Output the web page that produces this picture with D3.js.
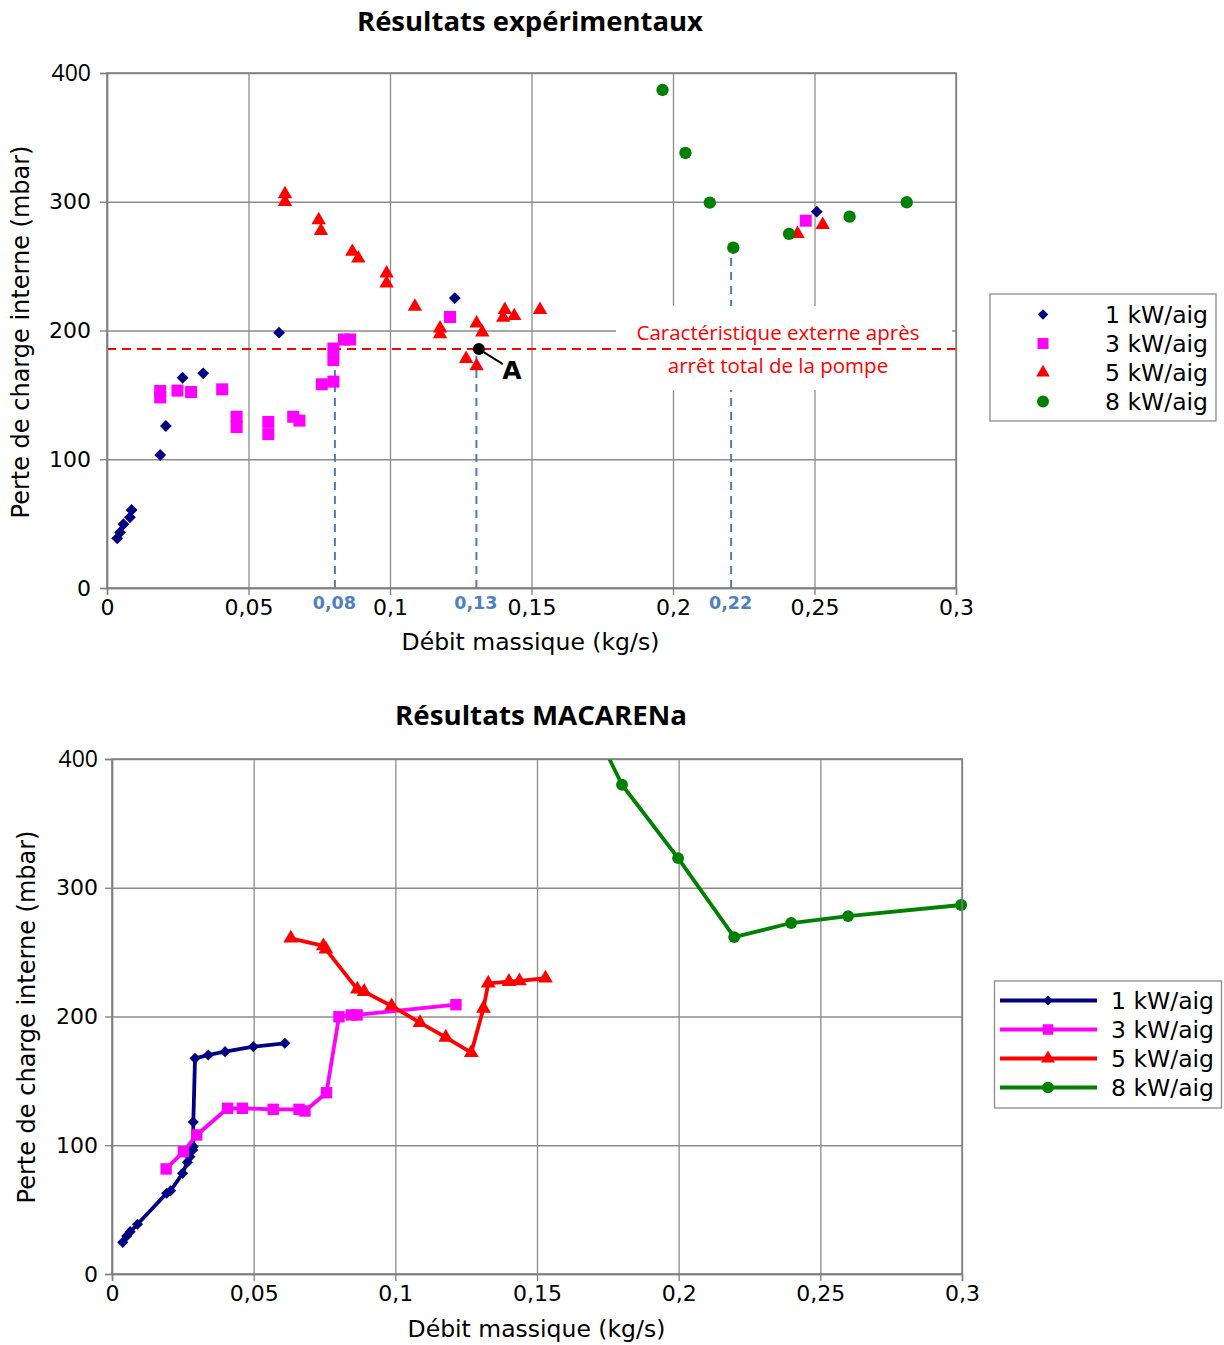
<!DOCTYPE html>
<html><head><meta charset="utf-8">
<script src="https://cdn.jsdelivr.net/npm/d3@7"></script>
<style>body{margin:0;background:#fff}svg{display:block}</style>
</head><body>
<script>
// ---------- DATA ----------
const seriesNames = ["1 kW/aig", "3 kW/aig", "5 kW/aig", "8 kW/aig"];
const seriesColors = ["#000080", "#ff00ff", "#ff0000", "#008000"];
const xTicks = [0, 0.05, 0.1, 0.15, 0.2, 0.25, 0.3];
const yTicks = [0, 100, 200, 300, 400];

// Experimental results (scatter)
const exp1kW = [[0.0036,38.6],[0.0046,43.2],[0.0058,49.5],[0.0081,54.9],[0.0087,60.6],[0.0188,103.3],[0.0208,125.8],[0.0267,163.3],[0.034,166.7],[0.0608,198.3],[0.1229,225.2],[0.2508,292.3]];
const exp3kW = [[0.0188,148],[0.0188,153],[0.0249,153.3],[0.0297,152.2],[0.0407,154.3],[0.0458,125],[0.0458,133],[0.057,119.5],[0.057,129],[0.0658,133],[0.068,130],[0.0759,158.2],[0.08,160.3],[0.08,177],[0.08,186],[0.0837,193],[0.0859,193],[0.1212,210.5],[0.2469,285.3]];
const exp5kW = [[0.0629,306],[0.0629,300],[0.0748,285.8],[0.0756,277.5],[0.0867,261.2],[0.0888,256],[0.0988,244.4],[0.0988,236.7],[0.1088,218.5],[0.1177,201.7],[0.1177,197.3],[0.1306,205.6],[0.1326,198.5],[0.1269,178],[0.1306,172.4],[0.1406,216],[0.14,210],[0.1439,211.3],[0.153,216],[0.244,275],[0.2529,282]];
const exp8kW = [[0.1963,386.8],[0.2044,337.9],[0.213,299.3],[0.2213,264.3],[0.241,275],[0.2624,288.4],[0.2826,299.6]];

// Annotations (experimental chart)
const externalCharacteristic = 185.6;
const pointA = [0.1314, 185.6];
const markedFlows = [[0.08, 185.6, "0,08"], [0.13, 185.6, "0,13"], [0.22, 264.3, "0,22"]];
const annotationLines = ["Caractéristique externe après", "arrêt total de la pompe"];

// MACARENa results (lines)
const mac1kW = [[0.0038,24.6],[0.0052,29.5],[0.0064,32.9],[0.009,38.6],[0.0193,62.7],[0.0207,64.7],[0.0249,78.2],[0.0266,86.8],[0.0275,91.1],[0.0285,96.3],[0.0287,98.9],[0.0287,118.1],[0.0293,167.5],[0.034,170.1],[0.0399,172.7],[0.0499,176.6],[0.061,179.2]];
const mac3kW = [[0.0191,81.6],[0.0252,95],[0.0299,108],[0.0408,128.7],[0.046,128.7],[0.0569,127.9],[0.066,127.9],[0.0681,126.6],[0.0757,140.8],[0.0801,199.8],[0.0845,201.2],[0.0865,201.2],[0.1214,209.2]];
const mac5kW = [[0.0631,260.7],[0.0746,254.8],[0.0755,252.2],[0.0866,221.1],[0.089,219.3],[0.0987,208.2],[0.1087,195.2],[0.1178,183.8],[0.1268,171.9],[0.1311,206.3],[0.1328,225.8],[0.1401,227.1],[0.1438,227.6],[0.153,229.7]];
const mac8kW = [[0.16,470],[0.18,380],[0.1998,323],[0.2196,261.7],[0.2397,272.6],[0.2598,278],[0.2997,286.6]];

// ---------- DRAW ----------
const W = 1224, H = 1345;
const svg = d3.select("body").append("svg").attr("width", W).attr("height", H);
const FONT = "DejaVu Sans, sans-serif";
const GRID = "#8c8c8c";
const fmt = d => String(d).replace(".", ",");

function symbolPath(i, s) {
  if (i === 0) return d3.symbol(d3.symbolSquare, s.diamond)();
  if (i === 1) return d3.symbol(d3.symbolSquare, s.square)();
  if (i === 2) return d3.symbol(d3.symbolTriangle, s.triangle)();
  return d3.symbol(d3.symbolCircle, s.circle)();
}
function drawMarker(g, i, x, y, sizes) {
  g.append("path").attr("d", symbolPath(i, sizes))
    .attr("transform", `translate(${x},${y})` + (i === 0 ? " rotate(45)" : ""))
    .attr("fill", seriesColors[i]);
}

function setupChart(cfg) {
  const x = d3.scaleLinear().domain([0, 0.3]).range([cfg.left, cfg.right]);
  const y = d3.scaleLinear().domain([0, 400]).range([cfg.bottom, cfg.top]);
  const g = svg.append("g");
  g.append("g").attr("transform", `translate(0,${cfg.bottom})`)
    .call(d3.axisBottom(x).tickValues(xTicks).tickSize(-(cfg.bottom - cfg.top)).tickFormat(""))
    .call(a => a.select(".domain").remove())
    .call(a => a.selectAll("line").attr("stroke", GRID).attr("stroke-width", 1.3));
  g.append("g").attr("transform", `translate(${cfg.left},0)`)
    .call(d3.axisLeft(y).tickValues(yTicks).tickSize(-(cfg.right - cfg.left)).tickFormat(""))
    .call(a => a.select(".domain").remove())
    .call(a => a.selectAll("line").attr("stroke", GRID).attr("stroke-width", 1.3));
  return { x, y, g };
}

function drawAxes(c, cfg) {
  const { x, y, g } = c;
  g.append("rect").attr("x", cfg.left).attr("y", cfg.top)
    .attr("width", cfg.right - cfg.left).attr("height", cfg.bottom - cfg.top)
    .attr("fill", "none").attr("stroke", "#7f7f7f").attr("stroke-width", 1.5);
  const xa = g.append("g").attr("transform", `translate(0,${cfg.bottom})`)
    .call(d3.axisBottom(x).tickValues(xTicks).tickSize(7).tickPadding(cfg.xPad).tickFormat(fmt));
  const ya = g.append("g").attr("transform", `translate(${cfg.left},0)`)
    .call(d3.axisLeft(y).tickValues(yTicks).tickSize(7).tickPadding(cfg.yPad).tickFormat(d => d));
  [xa, ya].forEach(a => {
    a.select(".domain").attr("stroke", "#7f7f7f").attr("stroke-width", 1.5);
    a.selectAll("line").attr("stroke", "#7f7f7f").attr("stroke-width", 1.3);
    a.selectAll("text").attr("font-family", FONT).attr("font-size", 22).attr("fill", "#000");
  });
  ya.selectAll("text").filter(d => d === 400)
    .attr("font-family", "Liberation Sans Narrow, Open Sans, sans-serif").attr("font-size", 23);
  g.append("text").attr("x", cfg.titleX).attr("y", cfg.titleY).attr("text-anchor", "middle")
    .attr("font-family", "Open Sans, sans-serif").attr("font-weight", 700).attr("font-size", 27)
    .attr("textLength", cfg.titleW).attr("lengthAdjust", "spacingAndGlyphs").text(cfg.title);
  g.append("text").attr("x", cfg.xTitleX).attr("y", cfg.xTitleY).attr("text-anchor", "middle")
    .attr("font-family", FONT).attr("font-size", 23.5).text("Débit massique (kg/s)");
  g.append("text").attr("transform", `translate(${cfg.yTitleX},${cfg.yTitleY}) rotate(-90)`)
    .attr("text-anchor", "middle").attr("dominant-baseline", "central")
    .attr("font-family", FONT).attr("font-size", 24).text("Perte de charge interne (mbar)");
}

// ===== Top chart: Résultats expérimentaux =====
const cfgTop = { left: 107, right: 956, top: 73, bottom: 588, xPad: 4, yPad: 9,
  title: "Résultats expérimentaux", titleX: 530, titleY: 31, titleW: 346,
  xTitleX: 530.5, xTitleY: 650, yTitleX: 21, yTitleY: 332 };
const topC = setupChart(cfgTop);
markedFlows.forEach(([fx, fy, lab]) => {
  topC.g.append("line").attr("x1", topC.x(fx) + 1.5).attr("x2", topC.x(fx) + 1.5)
    .attr("y1", topC.y(0)).attr("y2", topC.y(fy))
    .attr("stroke", "#4a7ebb").attr("stroke-width", 2).attr("stroke-dasharray", "8,6");
});
topC.g.append("rect").attr("x", 616).attr("y", 306).attr("width", 336).attr("height", 84).attr("fill", "#fff");
topC.g.append("line").attr("x1", cfgTop.left).attr("x2", cfgTop.right)
  .attr("y1", topC.y(externalCharacteristic)).attr("y2", topC.y(externalCharacteristic))
  .attr("stroke", "#ff0000").attr("stroke-width", 2).attr("stroke-dasharray", "9,6");
annotationLines.forEach((t, i) => {
  topC.g.append("text").attr("x", 778).attr("y", 332 + i * 32.5).attr("text-anchor", "middle")
    .attr("dominant-baseline", "central").attr("font-family", "Open Sans, sans-serif")
    .attr("font-size", 20.5).attr("fill", "#ff0000").text(t);
});
const topSizes = { diamond: 70, square: 144, triangle: 90, circle: 120 };
[exp1kW, exp3kW, exp5kW, exp8kW].forEach((data, i) => {
  data.forEach(([dx, dy]) => drawMarker(topC.g, i, topC.x(dx), topC.y(dy), topSizes));
});
topC.g.append("line").attr("x1", topC.x(pointA[0])).attr("y1", topC.y(pointA[1]))
  .attr("x2", topC.x(pointA[0]) + 24).attr("y2", topC.y(pointA[1]) + 15)
  .attr("stroke", "#000").attr("stroke-width", 2);
topC.g.append("circle").attr("cx", topC.x(pointA[0])).attr("cy", topC.y(pointA[1])).attr("r", 6).attr("fill", "#000");
topC.g.append("text").attr("x", topC.x(pointA[0]) + 33).attr("y", topC.y(pointA[1]) + 30)
  .attr("text-anchor", "middle").attr("font-family", FONT).attr("font-weight", 700)
  .attr("font-size", 25).text("A");
drawAxes(topC, cfgTop);
markedFlows.forEach(([fx, fy, lab]) => {
  topC.g.append("text").attr("x", topC.x(fx) + 1).attr("y", 603).attr("text-anchor", "middle")
    .attr("dominant-baseline", "central").attr("font-family", FONT).attr("font-weight", 700)
    .attr("font-size", 17.5).attr("fill", "#4f81bd").text(lab);
});
const lgT = svg.append("g");
lgT.append("rect").attr("x", 990).attr("y", 294).attr("width", 226).attr("height", 127)
  .attr("fill", "#fff").attr("stroke", "#8c8c8c").attr("stroke-width", 1.3);
const legTopSizes = { diamond: 55, square: 121, triangle: 80, circle: 113 };
seriesNames.forEach((n, i) => {
  const yy = 314.5 + i * 29;
  drawMarker(lgT, i, 1043, yy, legTopSizes);
  lgT.append("text").attr("x", 1105).attr("y", yy).attr("dominant-baseline", "central")
    .attr("font-family", FONT).attr("font-size", 23.5).text(n);
});

// ===== Bottom chart: Résultats MACARENa =====
const cfgBot = { left: 112, right: 962, top: 759, bottom: 1274, xPad: 4, yPad: 7,
  title: "Résultats MACARENa", titleX: 541, titleY: 725, titleW: 292,
  xTitleX: 536.5, xTitleY: 1337, yTitleX: 27, yTitleY: 1017 };
const botC = setupChart(cfgBot);
svg.append("clipPath").attr("id", "clipBot").append("rect")
  .attr("x", cfgBot.left).attr("y", cfgBot.top).attr("width", cfgBot.right - cfgBot.left + 8)
  .attr("height", cfgBot.bottom - cfgBot.top + 8);
const botPlot = botC.g.append("g").attr("clip-path", "url(#clipBot)");
const line = d3.line().x(d => botC.x(d[0])).y(d => botC.y(d[1]));
const botSizes = { diamond: 62, square: 130, triangle: 95, circle: 110 };
[mac1kW, mac3kW, mac5kW, mac8kW].forEach((data, i) => {
  botPlot.append("path").datum(data).attr("d", line).attr("fill", "none")
    .attr("stroke", seriesColors[i]).attr("stroke-width", 3.8).attr("stroke-linejoin", "round");
  data.forEach(([dx, dy]) => drawMarker(botPlot, i, botC.x(dx), botC.y(dy), botSizes));
});
drawAxes(botC, cfgBot);
const lgB = svg.append("g");
lgB.append("rect").attr("x", 994.5).attr("y", 981).attr("width", 227).attr("height", 127)
  .attr("fill", "#fff").attr("stroke", "#8c8c8c").attr("stroke-width", 1.3);
const legBotSizes = { diamond: 50, square: 110, triangle: 85, circle: 105 };
seriesNames.forEach((n, i) => {
  const yy = 1000.5 + i * 29;
  lgB.append("line").attr("x1", 1000).attr("x2", 1097).attr("y1", yy).attr("y2", yy)
    .attr("stroke", seriesColors[i]).attr("stroke-width", 3.8);
  drawMarker(lgB, i, 1048, yy, legBotSizes);
  lgB.append("text").attr("x", 1111).attr("y", yy).attr("dominant-baseline", "central")
    .attr("font-family", FONT).attr("font-size", 23.5).text(n);
});
</script>
</body></html>
